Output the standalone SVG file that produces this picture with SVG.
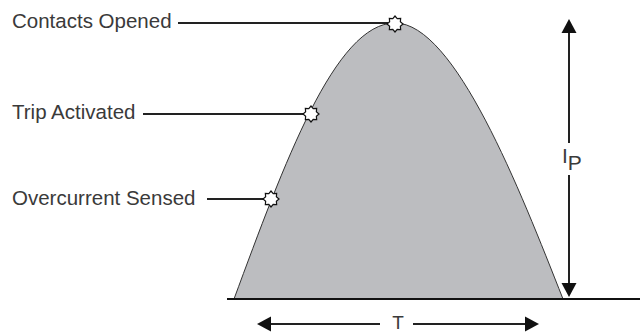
<svg xmlns="http://www.w3.org/2000/svg" xmlns:xlink="http://www.w3.org/1999/xlink" width="640" height="333" viewBox="0 0 640 333">
<style>
.lbl{font-family:"Liberation Sans",Arial,sans-serif;font-size:20.5px;fill:#3a3a3a}
.dim{font-family:"Liberation Sans",Arial,sans-serif;font-size:21px;fill:#3a3a3a}
.lead{stroke:#222;stroke-width:2;fill:none}
.arr{fill:#111}
.star{fill:#fff;stroke:#111;stroke-width:1.2}
</style>
<defs>
<polygon id="star" points="8,0 5.36,2.22 5.66,5.66 2.22,5.36 0,8 -2.22,5.36 -5.66,5.66 -5.36,2.22 -8,0 -5.36,-2.22 -5.66,-5.66 -2.22,-5.36 0,-8 2.22,-5.36 5.66,-5.66 5.36,-2.22"/>
</defs>
<path d="M234,299 C284,164 335,23 395,23 C455,23 520,190 563,299 Z" fill="#bcbdc0" stroke="#333" stroke-width="1"/>
<line x1="227" y1="299" x2="640" y2="299" stroke="#111" stroke-width="2"/>
<g id="connectors">
<line class="lead" x1="178" y1="23" x2="388" y2="23"/>
<line class="lead" x1="143" y1="114" x2="304" y2="114"/>
<line class="lead" x1="207" y1="199" x2="264" y2="199"/>
<line class="lead" x1="569" y1="30" x2="569" y2="143"/>
<line class="lead" x1="569" y1="175" x2="569" y2="286"/>
<polygon class="arr" points="569,19 561.5,33 576.5,33"/>
<polygon class="arr" points="569,297 561.5,283 576.5,283"/>
<line class="lead" x1="268" y1="324" x2="380" y2="324"/>
<line class="lead" x1="413" y1="324" x2="528" y2="324"/>
<polygon class="arr" points="257,324 271,316.5 271,331.5"/>
<polygon class="arr" points="539,324 525,316.5 525,331.5"/>
</g>
<g id="contacts-opened">
<text class="lbl" x="12" y="28">Contacts Opened</text>
<use xlink:href="#star" href="#star" class="star" x="395" y="24"/>
</g>
<g id="trip-activated">
<text class="lbl" x="12" y="119">Trip Activated</text>
<use xlink:href="#star" href="#star" class="star" x="311" y="114"/>
</g>
<g id="overcurrent-sensed">
<text class="lbl" x="12" y="205">Overcurrent Sensed</text>
<use xlink:href="#star" href="#star" class="star" x="271" y="199"/>
</g>
<g id="ip-label">
<text class="dim" x="562" y="163">I<tspan dy="7">P</tspan></text>
</g>
<g id="t-label">
<text class="dim" x="398" y="329" text-anchor="middle" style="font-size:19px">T</text>
</g>
</svg>
